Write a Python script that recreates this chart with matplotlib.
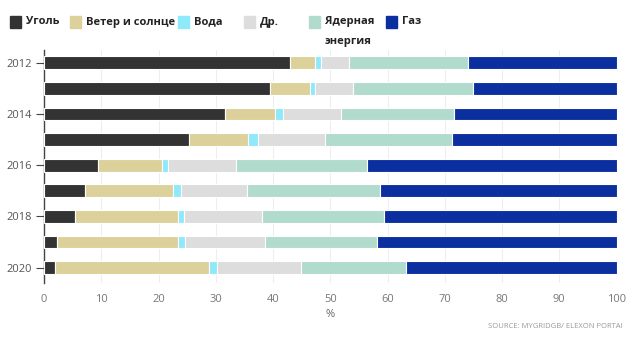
"""
UK electricity generation mix 2012-2020, stacked horizontal bars (% share).
"""

import matplotlib
matplotlib.use("Agg")
import matplotlib.pyplot as plt
from matplotlib.patches import Rectangle
import numpy as np

years = [2012, 2013, 2014, 2015, 2016, 2017, 2018, 2019, 2020]

# share of generation, %
coal = [42.9, 39.5, 31.7, 25.3, 9.5, 7.1, 5.5, 2.2, 1.9]
wind_solar = [4.4, 6.9, 8.7, 10.4, 11.1, 15.4, 17.9, 21.2, 26.9]
hydro = [1.0, 0.9, 1.4, 1.6, 1.1, 1.4, 1.1, 1.3, 1.4]
other = [5.0, 6.7, 10.0, 11.7, 11.8, 11.6, 13.5, 13.9, 14.7]
nuclear = [20.7, 20.9, 19.8, 22.3, 22.9, 23.1, 21.4, 19.6, 18.4]
gas = [26.0, 25.1, 28.4, 28.7, 43.6, 41.4, 40.6, 41.8, 36.7]

series = [coal, wind_solar, hydro, other, nuclear, gas]
labels = ["Уголь", "Ветер и солнце", "Вода", "Др.", "Ядерная\nэнергия", "Газ"]
colors = ["#333333", "#dcd19a", "#8ee9fb", "#dddddd", "#b1dccd", "#0c2f9f"]

FONT = ["Open Sans", "DejaVu Sans"]

fig = plt.figure(figsize=(6.33, 3.37), dpi=100)
ax = fig.add_axes([0.0695, 0.160, 0.9045, 0.692])

ypos = np.arange(len(years))
left = np.zeros(len(years))
for vals, col in zip(series, colors):
    vals = np.array(vals)
    ax.barh(ypos, vals, left=left, height=0.5, color=col,
            edgecolor="white", linewidth=0.8, zorder=3)
    left += vals

ax.set_xlim(0, 100)
ax.set_ylim(len(years) - 0.4, -0.5)
ax.set_xticks(range(0, 101, 10))
ax.set_yticks(ypos[::2])
ax.set_yticklabels([str(y) for y in years[::2]])
ax.tick_params(axis="y", length=6, width=0.8, color="#444444",
               labelsize=8, labelcolor="#555555", pad=3)
ax.tick_params(axis="x", length=0, labelsize=8, labelcolor="#777777", pad=8)
for lab in ax.get_xticklabels() + ax.get_yticklabels():
    lab.set_family(FONT)

ax.grid(axis="x", color="#eeeeee", linewidth=0.8, zorder=0)
for s in ["top", "right", "bottom"]:
    ax.spines[s].set_visible(False)
ax.spines["left"].set_color("#444444")
ax.spines["left"].set_linewidth(1.0)

ax.set_xlabel("%", fontsize=8, color="#666666", family=FONT, labelpad=3)

fig.text(0.984, 0.032, "SOURCE: MYGRIDGB/ ELEXON PORTAI", ha="right",
         va="center", fontsize=5.5, color="#999999", family=FONT)

# legend across the top
leg_x = [10, 70, 178, 244, 309, 386]
W, H = 633.0, 337.0
for x, lab, col in zip(leg_x, labels, colors):
    fig.patches.append(Rectangle((x / W, 1 - 28 / H), 11 / W, 12 / H,
                                 transform=fig.transFigure, color=col,
                                 figure=fig))
    if "\n" in lab:
        fig.text((x + 16) / W, 1 - 16 / H, lab, ha="left", va="top",
                 fontsize=8, fontweight="bold", color="#222222",
                 family=FONT, linespacing=2.15)
    else:
        fig.text((x + 16) / W, 1 - 22 / H, lab, ha="left", va="center",
                 fontsize=8, fontweight="bold", color="#222222",
                 family=FONT)

fig.savefig("out.png", dpi=100)
